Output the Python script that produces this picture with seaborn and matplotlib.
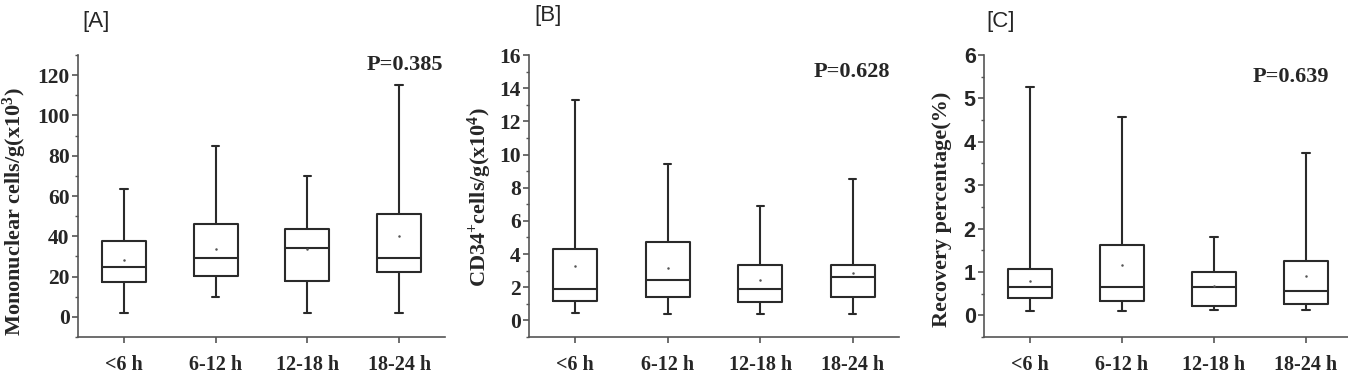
import matplotlib
matplotlib.use("Agg")
import matplotlib.pyplot as plt
from matplotlib.ticker import MultipleLocator
import seaborn as sns
import pandas as pd

groups = ["<6 h", "6-12 h", "12-18 h", "18-24 h"]

# [A] mononuclear cells/g (x10^3): whisker low, Q1, median, Q3, whisker high, mean
mnc_low = [1.7, 9.9, 1.7, 1.7]
mnc_q1 = [17.2, 20.4, 17.7, 22.4]
mnc_med = [25.0, 29.3, 34.3, 29.3]
mnc_q3 = [37.6, 46.1, 43.8, 50.9]
mnc_high = [63.3, 85.0, 69.8, 115.2]
mnc_mean = [28.3, 33.6, 33.8, 40.0]

# [B] CD34+ cells/g (x10^4)
cd34_low = [0.46, 0.40, 0.36, 0.40]
cd34_q1 = [1.20, 1.39, 1.13, 1.39]
cd34_med = [1.90, 2.45, 1.91, 2.64]
cd34_q3 = [4.33, 4.70, 3.36, 3.36]
cd34_high = [13.28, 9.42, 6.88, 8.53]
cd34_mean = [3.28, 3.16, 2.41, 2.88]

# [C] recovery percentage (%)
rec_low = [0.10, 0.10, 0.13, 0.13]
rec_q1 = [0.41, 0.32, 0.21, 0.25]
rec_med = [0.66, 0.66, 0.66, 0.55]
rec_q3 = [1.07, 1.61, 1.00, 1.25]
rec_high = [5.27, 4.58, 1.81, 3.73]
rec_mean = [0.78, 1.17, 0.68, 0.90]

p_values = ["P=0.385", "P=0.628", "P=0.639"]
panel_tags = ["[A]", "[B]", "[C]"]


def five_points(low, q1, med, q3, high):
    # five values per group: with whis=(0, 100) the box and whiskers land on them exactly
    rows = []
    for i, g in enumerate(groups):
        for v in (low[i], q1[i], med[i], q3[i], high[i]):
            rows.append({"group": g, "value": v})
    return pd.DataFrame(rows)


sns.set_style("ticks")
plt.rcParams["mathtext.fontset"] = "custom"
plt.rcParams["mathtext.rm"] = "Liberation Serif:bold"
plt.rcParams["mathtext.it"] = "Liberation Serif:bold"
plt.rcParams["mathtext.bf"] = "Liberation Serif:bold"

line_col = "#2a2a2a"
fig = plt.figure(figsize=(13.48, 3.73), dpi=100)

panels = [
    (five_points(mnc_low, mnc_q1, mnc_med, mnc_q3, mnc_high), mnc_mean,
     [78 / 1348, 36 / 373, 367 / 1348, 282 / 373], (-10, 130), 20, 10,
     "Mononuclear cells/g(x10$^{3}$)", "Liberation Serif"),
    (five_points(cd34_low, cd34_q1, cd34_med, cd34_q3, cd34_high), cd34_mean,
     [529 / 1348, 36 / 373, 370 / 1348, 282 / 373], (-1, 16), 2, 1,
     "CD34$^{+}$cells/g(x10$^{4}$)", "Liberation Serif"),
    (five_points(rec_low, rec_q1, rec_med, rec_q3, rec_high), rec_mean,
     [984 / 1348, 36 / 373, 368 / 1348, 282 / 373], (-0.5, 6), 1, 0.5,
     "Recovery percentage(%)", "Liberation Sans"),
]

label_pos = [(15, 212), (480, 197), (942, 209)]
tag_pos = [(96, 21), (548, 15), (1001, 21)]
p_pos = [(405, 65), (852, 72), (1291, 77)]

for k, (df, means, rect, ylim, major, minor, ylabel, tickfont) in enumerate(panels):
    ax = fig.add_axes(rect)
    sns.boxplot(data=df, x="group", y="value", order=groups, whis=(0, 100),
                width=0.48, fill=False, color=line_col, linecolor=line_col,
                linewidth=1.5, fliersize=0, capwidths=0.08, ax=ax)
    sns.stripplot(x=groups, y=means, order=groups, jitter=False, size=1.8,
                  color="#555555", ax=ax)
    ax.set_xlim(-0.5, 3.5)
    ax.set_ylim(*ylim)
    ax.yaxis.set_major_locator(MultipleLocator(major))
    ax.yaxis.set_minor_locator(MultipleLocator(minor))
    for s in ["top", "right"]:
        ax.spines[s].set_visible(False)
    for s in ["left", "bottom"]:
        ax.spines[s].set_color("#555555")
        ax.spines[s].set_linewidth(1.2)
    ax.tick_params(axis="y", which="major", length=4, width=1.2, color="#555555", pad=2)
    ax.tick_params(axis="y", which="minor", length=2.5, width=1.0, color="#555555")
    ax.tick_params(axis="x", which="major", length=4, width=1.2, color="#555555", pad=9)
    ax.set_xlabel("")
    ax.set_ylabel("")
    for lab in ax.get_yticklabels():
        lab.set_fontfamily(tickfont)
        lab.set_fontweight("bold")
        lab.set_fontsize(15.5)
    for lab in ax.get_xticklabels():
        lab.set_fontfamily("Liberation Serif")
        lab.set_fontweight("bold")
        lab.set_fontsize(14.5)
    fig.text(label_pos[k][0] / 1348, 1 - label_pos[k][1] / 373, ylabel, rotation=90,
             ha="center", va="center", family="Liberation Serif",
             fontweight="bold", fontsize=16)
    fig.text(tag_pos[k][0] / 1348, 1 - tag_pos[k][1] / 373, panel_tags[k],
             ha="center", va="center", family="Liberation Sans", fontsize=16)
    fig.text(p_pos[k][0] / 1348, 1 - p_pos[k][1] / 373, p_values[k],
             ha="center", va="center", family="Liberation Serif",
             fontweight="bold", fontsize=16)

fig.savefig("out.png", dpi=100)
